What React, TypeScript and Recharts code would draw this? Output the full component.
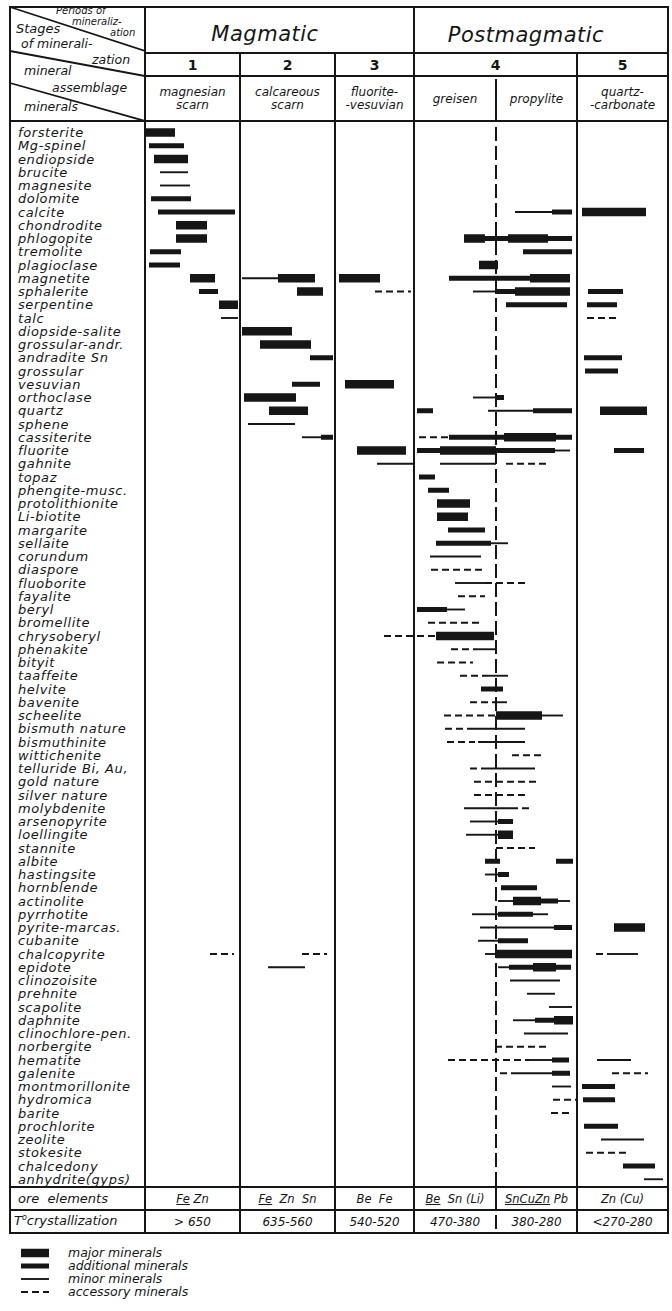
import React from 'react';
import { BarChart, Bar, XAxis, YAxis, ReferenceLine } from 'recharts';

type Seg = [string, number, number];
type Kind = 'major' | 'additional' | 'minor' | 'accessory';

// minerals, top to bottom
const MINERALS = [
  'forsterite', 'Mg-spinel', 'endiopside', 'brucite', 'magnesite', 'dolomite', 'calcite',
  'chondrodite', 'phlogopite', 'tremolite', 'plagioclase', 'magnetite', 'sphalerite',
  'serpentine', 'talc', 'diopside-salite', 'grossular-andr.', 'andradite Sn', 'grossular',
  'vesuvian', 'orthoclase', 'quartz', 'sphene', 'cassiterite', 'fluorite', 'gahnite', 'topaz',
  'phengite-musc.', 'protolithionite', 'Li-biotite', 'margarite', 'sellaite', 'corundum',
  'diaspore', 'fluoborite', 'fayalite', 'beryl', 'bromellite', 'chrysoberyl', 'phenakite',
  'bityit', 'taaffeite', 'helvite', 'bavenite', 'scheelite', 'bismuth nature', 'bismuthinite',
  'wittichenite', 'telluride Bi, Au,', 'gold nature', 'silver nature', 'molybdenite',
  'arsenopyrite', 'loellingite', 'stannite', 'albite', 'hastingsite', 'hornblende', 'actinolite',
  'pyrrhotite', 'pyrite-marcas.', 'cubanite', 'chalcopyrite', 'epidote', 'clinozoisite',
  'prehnite', 'scapolite', 'daphnite', 'clinochlore-pen.', 'norbergite', 'hematite', 'galenite',
  'montmorillonite', 'hydromica', 'barite', 'prochlorite', 'zeolite', 'stokesite', 'chalcedony',
  'anhydrite(gyps)',
];

// time axis: 0 = start of stage 1, 523 = end of stage 5
const MAJOR: Seg[] = [
  ['forsterite', 0, 30], ['endiopside', 9, 43], ['chondrodite', 31, 62], ['phlogopite', 31, 62],
  ['phlogopite', 319, 340], ['phlogopite', 363, 403], ['plagioclase', 334, 353],
  ['magnetite', 45, 70], ['magnetite', 133, 170], ['magnetite', 194, 235], ['magnetite', 385, 425],
  ['sphalerite', 152, 178], ['sphalerite', 370, 425], ['serpentine', 74, 93],
  ['diopside-salite', 97, 147], ['grossular-andr.', 115, 166], ['calcite', 437, 501],
  ['vesuvian', 200, 249], ['orthoclase', 99, 151], ['quartz', 124, 163], ['quartz', 455, 502],
  ['cassiterite', 359, 411], ['fluorite', 212, 261], ['fluorite', 295, 351],
  ['protolithionite', 292, 325], ['Li-biotite', 292, 323], ['chrysoberyl', 291, 349],
  ['scheelite', 351, 397], ['loellingite', 353, 368], ['actinolite', 368, 396],
  ['chalcopyrite', 351, 427], ['epidote', 388, 411], ['daphnite', 409, 428],
  ['pyrite-marcas.', 469, 500],
];

const ADDITIONAL: Seg[] = [
  ['Mg-spinel', 4, 39], ['dolomite', 6, 46], ['calcite', 13, 90], ['calcite', 407, 427],
  ['phlogopite', 340, 363], ['phlogopite', 403, 427], ['tremolite', 5, 36], ['tremolite', 378, 427],
  ['plagioclase', 4, 35], ['magnetite', 304, 385], ['sphalerite', 54, 73], ['sphalerite', 350, 370],
  ['sphalerite', 443, 478], ['serpentine', 361, 422], ['serpentine', 442, 472],
  ['andradite Sn', 165, 188], ['andradite Sn', 439, 477], ['grossular', 440, 473],
  ['vesuvian', 147, 175], ['orthoclase', 351, 359], ['quartz', 272, 288], ['quartz', 388, 427],
  ['cassiterite', 176, 188], ['cassiterite', 304, 359], ['cassiterite', 411, 427],
  ['fluorite', 272, 295], ['fluorite', 351, 410], ['fluorite', 469, 499], ['topaz', 274, 290],
  ['phengite-musc.', 283, 304], ['margarite', 303, 340], ['sellaite', 291, 346], ['beryl', 272, 302],
  ['helvite', 336, 358], ['arsenopyrite', 353, 368], ['albite', 340, 355], ['albite', 411, 428],
  ['hastingsite', 353, 364], ['hornblende', 356, 392], ['actinolite', 396, 413],
  ['pyrrhotite', 353, 388], ['pyrite-marcas.', 409, 427], ['cubanite', 353, 383],
  ['epidote', 364, 388], ['epidote', 411, 426], ['daphnite', 390, 409], ['hematite', 407, 424],
  ['galenite', 407, 425], ['montmorillonite', 437, 470], ['hydromica', 438, 470],
  ['prochlorite', 439, 473], ['chalcedony', 478, 510],
];

const MINOR: Seg[] = [
  ['brucite', 15, 43], ['magnesite', 15, 45], ['calcite', 370, 407], ['magnetite', 97, 133],
  ['sphalerite', 328, 350], ['talc', 76, 93], ['orthoclase', 328, 351], ['quartz', 343, 388],
  ['sphene', 103, 150], ['cassiterite', 157, 176], ['fluorite', 410, 425], ['gahnite', 232, 270],
  ['gahnite', 295, 351], ['sellaite', 346, 363], ['corundum', 285, 336], ['fluoborite', 310, 340],
  ['beryl', 302, 320], ['phenakite', 332, 351], ['taaffeite', 343, 363], ['bavenite', 351, 362],
  ['scheelite', 397, 418], ['bismuth nature', 328, 380], ['bismuthinite', 333, 380],
  ['telluride Bi, Au,', 343, 390], ['molybdenite', 319, 366], ['arsenopyrite', 325, 353],
  ['loellingite', 321, 353], ['hastingsite', 340, 353], ['actinolite', 353, 368],
  ['actinolite', 413, 425], ['pyrrhotite', 327, 353], ['pyrrhotite', 388, 403],
  ['pyrite-marcas.', 335, 409], ['cubanite', 333, 353], ['chalcopyrite', 340, 351],
  ['chalcopyrite', 463, 493], ['epidote', 123, 160], ['epidote', 353, 364],
  ['clinozoisite', 365, 415], ['prehnite', 382, 410], ['scapolite', 404, 427],
  ['daphnite', 368, 390], ['clinochlore-pen.', 379, 423], ['hematite', 385, 407],
  ['hematite', 452, 486], ['galenite', 370, 407], ['montmorillonite', 407, 426],
  ['zeolite', 456, 499], ['anhydrite(gyps)', 499, 518],
];

const ACCESSORY: Seg[] = [
  ['sphalerite', 230, 266], ['talc', 442, 475], ['cassiterite', 274, 304], ['gahnite', 361, 403],
  ['diaspore', 286, 340], ['fluoborite', 340, 380], ['fayalite', 313, 340], ['bromellite', 283, 334],
  ['chrysoberyl', 239, 291], ['phenakite', 306, 332], ['bityit', 292, 328], ['taaffeite', 315, 343],
  ['bavenite', 325, 351], ['scheelite', 299, 351], ['bismuth nature', 300, 328],
  ['bismuthinite', 302, 330], ['wittichenite', 367, 399], ['telluride Bi, Au,', 325, 343],
  ['gold nature', 329, 392], ['silver nature', 329, 383], ['molybdenite', 366, 385],
  ['stannite', 351, 390], ['chalcopyrite', 65, 89], ['chalcopyrite', 157, 182],
  ['chalcopyrite', 451, 463], ['norbergite', 350, 404], ['hematite', 303, 385],
  ['galenite', 355, 370], ['galenite', 467, 503], ['hydromica', 408, 433], ['barite', 406, 428],
  ['stokesite', 441, 484],
];

const PERIODS = ['Magmatic', 'Postmagmatic'];
const STAGES = ['1', '2', '3', '4', '5'];
const ASSEMBLAGES = [
  ['magnesian', 'scarn'], ['calcareous', 'scarn'], ['fluorite-', '-vesuvian'],
  ['greisen'], ['propylite'], ['quartz-', '-carbonate'],
];
// [underlined part, rest]
const ORE_ELEMENTS = [
  ['Fe', '\u00a0Zn'], ['Fe', '\u00a0\u00a0Zn\u00a0\u00a0Sn'], ['', 'Be\u00a0\u00a0Fe'],
  ['Be', '\u00a0\u00a0Sn (Li)'], ['SnCuZn', '\u00a0Pb'], ['', 'Zn (Cu)'],
];
const TEMPERATURES = ['> 650', '635-560', '540-520', '470-380', '380-280', '<270-280'];
const LEGEND: [Kind, string][] = [
  ['major', 'major minerals'], ['additional', 'additional minerals'],
  ['minor', 'minor minerals'], ['accessory', 'accessory minerals'],
];

// stage boundaries on the time axis, greisen / propylite divider
const STAGE_EDGES = [0, 95, 190, 269, 432, 523];
const SUB_EDGES = [0, 95, 190, 269, 351, 432, 523];
const DIVIDER = 351;

const INK = '#161616';
const FONT = "'DejaVu Sans', 'Liberation Sans', sans-serif";

// table frame
const L = 10;
const R = 668;
const T = 7;
const H1 = 53;
const H2 = 76;
const H3 = 121;
const F1 = 1187;
const F2 = 1210;
const B = 1233;
const PLOT_LEFT = 145;
const px = (v: number) => PLOT_LEFT + v;

const KINDS: Record<Kind, Seg[]> = { major: MAJOR, additional: ADDITIONAL, minor: MINOR, accessory: ACCESSORY };

const segsByMineral = MINERALS.map(name => {
  const list: { from: number; to: number; kind: Kind }[] = [];
  (Object.keys(KINDS) as Kind[]).forEach(k =>
    KINDS[k].forEach(([n, a, b]) => {
      if (n === name) list.push({ from: a, to: b, kind: k });
    })
  );
  return list.sort((p, q) => p.from - q.from);
});

const SLOTS = Math.max(...segsByMineral.map(s => s.length));

// stacked gap/segment pairs, one row per mineral
const data = MINERALS.map((name, i) => {
  const row: any = { name, kinds: [] as Kind[] };
  let end = 0;
  for (let j = 0; j < SLOTS; j++) {
    const s = segsByMineral[i][j];
    if (s) {
      const from = Math.max(s.from, end);
      row['gap' + j] = from - end;
      row['seg' + j] = Math.max(0, s.to - from);
      row.kinds[j] = s.kind;
      end = Math.max(end, s.to);
    } else {
      row['gap' + j] = 0;
      row['seg' + j] = 0;
    }
  }
  return row;
});

const Mark = ({ kind, x, width, cy }: { kind: Kind; x: number; width: number; cy: number }) => {
  if (kind === 'minor' || kind === 'accessory') {
    return (
      <line x1={x} x2={x + width} y1={cy} y2={cy} stroke={INK} strokeWidth={1.9}
        strokeDasharray={kind === 'accessory' ? '7 4' : undefined} />
    );
  }
  const h = kind === 'major' ? 8.5 : 5;
  return <rect x={x} y={cy - h / 2} width={width} height={h} fill={INK} />;
};

const segShape = (slot: number) => (p: any) => {
  const kind = p.payload?.kinds?.[slot];
  if (!kind || !(p.width > 0)) return <g />;
  return <Mark kind={kind} x={p.x} width={p.width} cy={p.y + p.height / 2} />;
};

const LabelTick = (p: any) => (
  <text x={8} y={p.y} dy={4.5} textAnchor="start" fontFamily={FONT} fontStyle="italic"
    fontSize={13} letterSpacing={0.6} fill={INK}>
    {p.payload.value}
  </text>
);

const HLine = ({ x1, x2, y, w = 2 }: any) => (
  <div style={{ position: 'absolute', left: x1, top: y - w / 2, width: x2 - x1, height: w, background: INK }} />
);
const VLine = ({ x, y1, y2, w = 2 }: any) => (
  <div style={{ position: 'absolute', left: x - w / 2, top: y1, width: w, height: y2 - y1, background: INK }} />
);
const Txt = ({ x, y, size = 12.5, italic = true, bold = false, left = false, children, style }: any) => (
  <div style={{
    position: 'absolute', left: x, top: y, transform: left ? 'translate(0,-50%)' : 'translate(-50%,-50%)',
    fontFamily: FONT, fontStyle: italic ? 'italic' : 'normal', fontWeight: bold ? 'bold' : 'normal',
    fontSize: size, lineHeight: 1.05, whiteSpace: 'nowrap', color: INK, textAlign: 'center', ...style,
  }}>
    {children}
  </div>
);

export default function App() {
  const stageMid = (i: number) => px((STAGE_EDGES[i] + STAGE_EDGES[i + 1]) / 2);
  const subMid = (i: number) => px((SUB_EDGES[i] + SUB_EDGES[i + 1]) / 2);

  return (
    <div style={{ position: 'absolute', left: 0, top: 0, width: 672, height: 1311, background: '#fff', overflow: 'hidden' }}>
      {/* header corner */}
      <svg style={{ position: 'absolute', left: 0, top: 0 }} width={PLOT_LEFT} height={H3}>
        <line x1={L} y1={T} x2={PLOT_LEFT} y2={H1 - 2} stroke={INK} strokeWidth={1.8} />
        <line x1={L} y1={H1 - 2} x2={PLOT_LEFT} y2={H2} stroke={INK} strokeWidth={1.8} />
        <line x1={L} y1={83} x2={PLOT_LEFT} y2={H3} stroke={INK} strokeWidth={1.8} />
      </svg>
      <Txt x={56} y={11} size={10} left>Periods of</Txt>
      <Txt x={72} y={22} size={10} left>mineraliz-</Txt>
      <Txt x={110} y={33} size={10} left>ation</Txt>
      <Txt x={16} y={29} size={13} left>Stages</Txt>
      <Txt x={21} y={44} size={12.5} left>of minerali-</Txt>
      <Txt x={92} y={60} size={12.5} left>zation</Txt>
      <Txt x={24} y={71} size={12.5} left>mineral</Txt>
      <Txt x={52} y={88} size={12.5} left>assemblage</Txt>
      <Txt x={24} y={107} size={12.5} left>minerals</Txt>

      {/* header texts */}
      <Txt x={265} y={34} size={21} style={{ letterSpacing: 0.5 }}>{PERIODS[0]}</Txt>
      <Txt x={526} y={35} size={21} style={{ letterSpacing: 0.5 }}>{PERIODS[1]}</Txt>
      {STAGES.map((s, i) => (
        <Txt key={s} x={stageMid(i)} y={65} size={14} italic={false} bold>{s}</Txt>
      ))}
      {ASSEMBLAGES.map((a, i) => (
        <Txt key={i} x={subMid(i)} y={99} size={12}>
          {a.map((t, k) => <div key={k}>{t}</div>)}
        </Txt>
      ))}

      {/* body */}
      <div style={{ position: 'absolute', left: L, top: H3 }}>
        <BarChart layout="vertical" width={R - L} height={F1 - H3} data={data}
          margin={{ top: 5, right: 0, bottom: 1, left: 0 }} barCategoryGap={2}>
          <XAxis type="number" domain={[0, 523]} hide />
          <YAxis type="category" dataKey="name" width={PLOT_LEFT - L} axisLine={false}
            tickLine={false} interval={0} tick={LabelTick} />
          <ReferenceLine x={DIVIDER} stroke={INK} strokeWidth={2} strokeDasharray="14 5" />
          {Array.from({ length: SLOTS }).flatMap((_, j) => [
            <Bar key={'g' + j} dataKey={'gap' + j} stackId="s" isAnimationActive={false} shape={() => <g />} />,
            <Bar key={'s' + j} dataKey={'seg' + j} stackId="s" isAnimationActive={false} shape={segShape(j)} />,
          ])}
        </BarChart>
      </div>

      {/* footer */}
      <Txt x={18} y={1199} size={13} left>ore&nbsp;&nbsp;elements</Txt>
      <div style={{ position: 'absolute', left: L + 2, top: F2, width: PLOT_LEFT - L - 3, height: B - F2, overflow: 'hidden' }}>
        <Txt x={2} y={11} size={13} left>T<sup style={{ fontSize: 8 }}>o</sup>crystallization</Txt>
      </div>
      {ORE_ELEMENTS.map(([u, rest], i) => (
        <Txt key={i} x={subMid(i)} y={1199} size={11.5}>
          <span style={{ textDecoration: 'underline' }}>{u}</span>{rest}
        </Txt>
      ))}
      {TEMPERATURES.map((t, i) => (
        <Txt key={i} x={subMid(i)} y={1222} size={12}>{t}</Txt>
      ))}

      {/* grid */}
      <HLine x1={L - 1} x2={R + 1} y={T} />
      <HLine x1={PLOT_LEFT} x2={R} y={H1} />
      <HLine x1={PLOT_LEFT} x2={R} y={H2} />
      <HLine x1={L} x2={R} y={H3} />
      <HLine x1={L} x2={R} y={F1} />
      <HLine x1={L} x2={R} y={F2} />
      <HLine x1={L - 1} x2={R + 1} y={B} />
      <VLine x={L} y1={T} y2={B} />
      <VLine x={R} y1={T} y2={B} />
      <VLine x={PLOT_LEFT} y1={T} y2={B} />
      <VLine x={px(STAGE_EDGES[3])} y1={T} y2={B} />
      {[1, 2, 4].map(i => (
        <VLine key={i} x={px(STAGE_EDGES[i])} y1={H1} y2={B} />
      ))}
      <VLine x={px(DIVIDER)} y1={H2 + 3} y2={H3} />
      <VLine x={px(DIVIDER)} y1={F1} y2={F2} />
      <VLine x={px(DIVIDER)} y1={1215} y2={1229} />

      {/* legend */}
      {LEGEND.map(([k, label], i) => {
        const y = 1253 + i * 13;
        return (
          <React.Fragment key={k}>
            <svg style={{ position: 'absolute', left: 20, top: y - 5 }} width={32} height={10}>
              <Mark kind={k} x={1} width={28} cy={5} />
            </svg>
            <Txt x={68} y={y} size={12.5} left>{label}</Txt>
          </React.Fragment>
        );
      })}
    </div>
  );
}
